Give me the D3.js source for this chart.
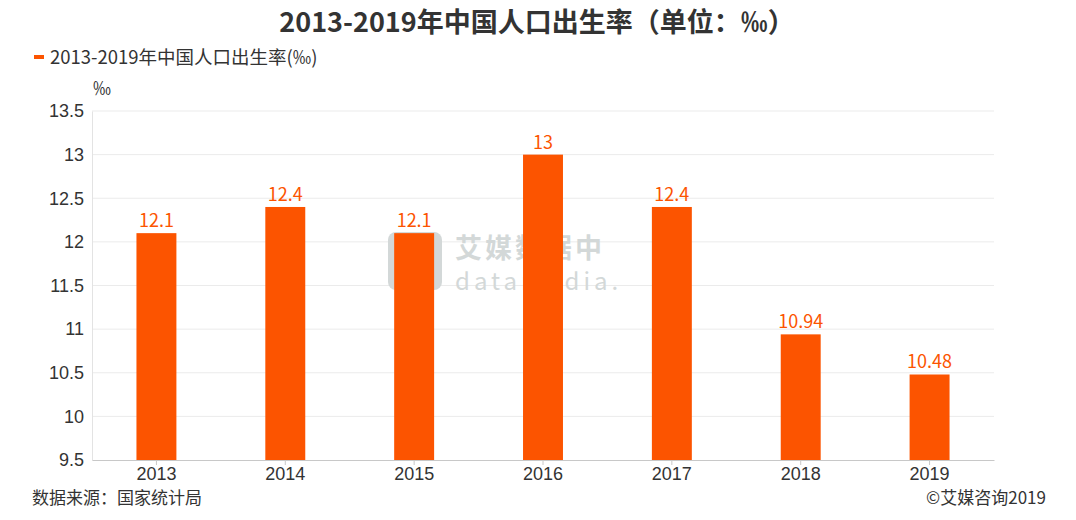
<!DOCTYPE html>
<html lang="zh">
<head>
<meta charset="UTF-8">
<title>2013-2019年中国人口出生率</title>
<script src="https://cdn.jsdelivr.net/npm/d3@7/dist/d3.min.js"></script>
<style>
    body { margin: 0; background: #fff; }
    svg { display: block; font-family: "Noto Sans CJK SC", "Noto Sans", sans-serif; }
    .tick text { font-size: 18px; fill: #333; }
</style>
</head>
<body>
<div id="chart"></div>
<script>
const years = ['2013', '2014', '2015', '2016', '2017', '2018', '2019']
const birthRate = [12.1, 12.4, 12.1, 13, 12.4, 10.94, 10.48]
const yTicks = [9.5, 10, 10.5, 11, 11.5, 12, 12.5, 13, 13.5]

const W = 1076, H = 520
const margin = {top: 111, right: 82, bottom: 60, left: 92}
const orange = '#fc5400'

const svg = d3.select('#chart').append('svg')
    .attr('width', W)
    .attr('height', H)

const x = d3.scaleBand()
    .domain(years)
    .range([margin.left, W - margin.right])
    .paddingInner(0.69)
    .paddingOuter(0.345)

const y = d3.scaleLinear()
    .domain([9.5, 13.5])
    .range([H - margin.bottom, margin.top])

// 标题
svg.append('text')
    .attr('x', 537).attr('y', 32)
    .attr('text-anchor', 'middle')
    .style('font-size', '27px').style('font-weight', 'bold').style('fill', '#333')
    .text('2013-2019年中国人口出生率（单位：‰）')

// 图例
svg.append('rect')
    .attr('x', 34).attr('y', 55).attr('width', 10).attr('height', 4)
    .attr('fill', orange)
svg.append('text')
    .attr('x', 50).attr('y', 64)
    .style('font-size', '18.5px').style('fill', '#333')
    .text('2013-2019年中国人口出生率(‰)')

svg.append('text')
    .attr('x', 93).attr('y', 95)
    .style('font-size', '18px').style('fill', '#333')
    .text('‰')

// 网格线
svg.append('g')
    .selectAll('line')
    .data(yTicks.slice(1))
    .join('line')
    .attr('x1', margin.left).attr('x2', W - margin.right)
    .attr('y1', d => y(d)).attr('y2', d => y(d))
    .attr('stroke', '#ebebeb')

// 水印
const wm = svg.append('g').attr('fill', '#d3d8d8')
wm.append('rect')
    .attr('x', 388).attr('y', 232).attr('width', 54).attr('height', 58).attr('rx', 8)
wm.append('text')
    .attr('x', 455).attr('y', 258)
    .style('font-size', '27px').style('font-weight', 'bold').style('letter-spacing', '3px')
    .text('艾媒数据中')
wm.append('text')
    .attr('x', 455).attr('y', 290)
    .style('font-size', '24px').style('letter-spacing', '4px')
    .text('datamedia.')

// y轴
const yAxis = svg.append('g')
    .attr('transform', `translate(${margin.left},0)`)
    .call(d3.axisLeft(y).tickValues(yTicks).tickSize(0).tickPadding(8).tickFormat(d3.format('')))
yAxis.select('.domain').attr('stroke', '#e3e3e3')

// 柱子
svg.append('g')
    .selectAll('rect')
    .data(birthRate)
    .join('rect')
    .attr('x', (d, i) => x(years[i]))
    .attr('y', d => y(d))
    .attr('width', x.bandwidth())
    .attr('height', d => y(9.5) - y(d))
    .attr('fill', orange)

// 数值标签
svg.append('g')
    .selectAll('text')
    .data(birthRate)
    .join('text')
    .attr('x', (d, i) => x(years[i]) + x.bandwidth() / 2)
    .attr('y', d => y(d) - 6)
    .attr('text-anchor', 'middle')
    .style('font-size', '18px').style('fill', orange)
    .text(d => d)

// x轴
const xAxis = svg.append('g')
    .attr('transform', `translate(0,${H - margin.bottom})`)
    .call(d3.axisBottom(x).tickSize(5).tickPadding(2).tickSizeOuter(0))
xAxis.select('.domain').attr('stroke', '#c8c8c8')
xAxis.selectAll('.tick line').attr('stroke', '#c8c8c8')

// 来源
svg.append('text')
    .attr('x', 32).attr('y', 504)
    .style('font-size', '17px').style('fill', '#333')
    .text('数据来源：国家统计局')
svg.append('text')
    .attr('x', 1046).attr('y', 504)
    .attr('text-anchor', 'end')
    .style('font-size', '17px').style('fill', '#333')
    .text('©艾媒咨询2019')
</script>
</body>
</html>
